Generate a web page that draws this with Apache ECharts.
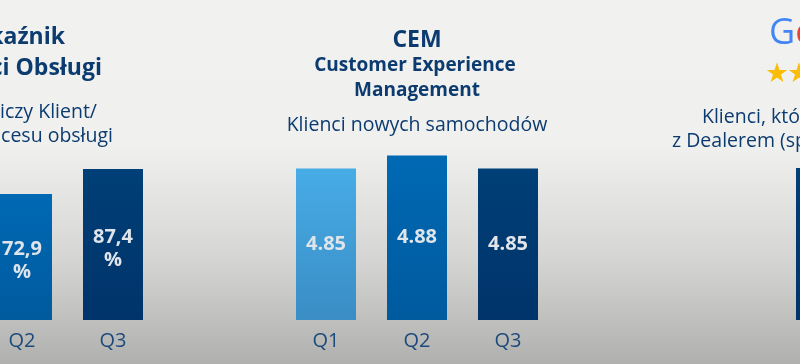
<!DOCTYPE html>
<html>
<head>
<meta charset="utf-8">
<script src="https://cdn.jsdelivr.net/npm/echarts@6/dist/echarts.min.js"></script>
<style>html,body{margin:0;padding:0;}#c{width:800px;height:364px;}</style>
</head>
<body>
<div id="c"></div>
<script>
// Left panel (service quality index, %)
var leftCategories = ['Q2', 'Q3'];
var leftValues = [72.9, 87.4];
// Middle panel (CEM - new car customers)
var cemCategories = ['Q1', 'Q2', 'Q3'];
var cemValues = [4.85, 4.88, 4.85];
// Right panel (Google rating, mostly off-screen)
var googleCategories = ['Q1'];
var googleValues = [4.4];

var FONT = '"Open Sans", "Noto Sans", sans-serif';
var TXT = '#0c3b70';

function grad(top, bottom) {
  return new echarts.graphic.LinearGradient(0, 0, 0, 1, [
    {offset: 0, color: top}, {offset: 1, color: bottom}
  ]);
}
var cLight = grad('#47ace6', '#3a8dc5');
var cMid = grad('#0069b4', '#005a9e');
var cDark = grad('#003f77', '#00346a');

function catAxis(idx, data) {
  return {
    type: 'category', gridIndex: idx, data: data,
    axisLine: {show: false}, axisTick: {show: false},
    axisLabel: {color: '#1d4a7c', fontSize: 20, fontFamily: FONT, margin: 11}
  };
}
function valAxis(idx, min, max) {
  return {
    type: 'value', gridIndex: idx, min: min, max: max,
    axisLine: {show: false}, axisTick: {show: false},
    axisLabel: {show: false}, splitLine: {show: false}
  };
}
var labelBase = {
  show: true, position: 'inside', color: '#dfe5ea',
  fontSize: 20, fontWeight: 'bold', fontFamily: FONT, lineHeight: 23
};

var chart = echarts.init(document.getElementById('c'));
chart.setOption({
  animation: false,
  backgroundColor: new echarts.graphic.LinearGradient(0, 0, 0, 1, [
    {offset: 0, color: '#f1f1ef'},
    {offset: 0.4, color: '#f0f0ee'},
    {offset: 0.7, color: '#d6d7d4'},
    {offset: 1, color: '#b0b1ae'}
  ]),
  grid: [
    {left: -23.5, width: 182, top: 147.2, bottom: 44, outerBoundsMode: 'none', containLabel: false},
    {left: 280.5, width: 273, top: 103.5, bottom: 44, outerBoundsMode: 'none', containLabel: false},
    {left: 780.5, width: 91, top: 147.2, bottom: 44, outerBoundsMode: 'none', containLabel: false}
  ],
  xAxis: [catAxis(0, leftCategories), catAxis(1, cemCategories), catAxis(2, googleCategories)],
  yAxis: [valAxis(0, 0, 100), valAxis(1, 4.5, 5.0), valAxis(2, 0, 5)],
  series: [
    {
      type: 'bar', xAxisIndex: 0, yAxisIndex: 0, barWidth: 60,
      data: leftValues.map(function (v, i) {
        return {value: v, itemStyle: {color: [cMid, cDark][i]}};
      }),
      label: Object.assign({}, labelBase, {
        offset: [0, 4],
        formatter: function (p) { return p.value.toFixed(1).replace('.', ',') + '\n%'; }
      })
    },
    {
      type: 'bar', xAxisIndex: 1, yAxisIndex: 1, barWidth: 60,
      data: cemValues.map(function (v, i) {
        return {value: v, itemStyle: {color: [cLight, cMid, cDark][i]}};
      }),
      label: Object.assign({}, labelBase, {
        formatter: function (p) { return p.value.toFixed(2); }
      })
    },
    {
      type: 'bar', xAxisIndex: 2, yAxisIndex: 2, barWidth: 60,
      data: googleValues.map(function (v) {
        return {value: v, itemStyle: {color: cDark}};
      }),
      label: {show: false}
    }
  ],
  graphic: [
    // middle panel titles
    {type: 'text', x: 417, y: 40, style: {text: 'CEM', font: 'bold 23px ' + FONT, fill: TXT, align: 'center', verticalAlign: 'middle'}},
    {type: 'text', x: 415, y: 66, style: {text: 'Customer Experience', font: 'bold 19px ' + FONT, fill: TXT, align: 'center', verticalAlign: 'middle'}},
    {type: 'text', x: 417, y: 91, style: {text: 'Management', font: 'bold 19px ' + FONT, fill: TXT, align: 'center', verticalAlign: 'middle'}},
    {type: 'text', x: 417, y: 125, style: {text: 'Klienci nowych samochodów', font: '19.5px ' + FONT, fill: TXT, align: 'center', verticalAlign: 'middle'}},
    // left panel titles (cut by the frame)
    {type: 'text', x: 65, y: 37, style: {text: 'kaźnik', font: 'bold 23px ' + FONT, fill: TXT, align: 'right', verticalAlign: 'middle'}},
    {type: 'text', x: 102, y: 68, style: {text: 'ci Obsługi', font: 'bold 23px ' + FONT, fill: TXT, align: 'right', verticalAlign: 'middle'}},
    {type: 'text', x: 97, y: 112, style: {text: 'iczy Klient/', font: '19.5px ' + FONT, fill: TXT, align: 'right', verticalAlign: 'middle'}},
    {type: 'text', x: 113, y: 136, style: {text: 'ocesu obsługi', font: '19.5px ' + FONT, fill: TXT, align: 'right', verticalAlign: 'middle'}},
    // right panel (cut by the frame)
    {type: 'text', x: 769, y: 34, style: {
      text: '{g|G}{o|o}', align: 'left', verticalAlign: 'middle',
      rich: {
        g: {font: '36px ' + FONT, fill: '#4285F4'},
        o: {font: '36px ' + FONT, fill: '#EA4335'}
      }
    }},
    {type: 'text', x: 766, y: 72, style: {text: '★★', font: '22px "Noto Sans CJK SC", "DejaVu Sans", sans-serif', fill: '#FBBC05', align: 'left', verticalAlign: 'middle'}},
    {type: 'text', x: 702, y: 117, style: {text: 'Klienci, któ', font: '19.5px ' + FONT, fill: TXT, align: 'left', verticalAlign: 'middle'}},
    {type: 'text', x: 672, y: 141, style: {text: 'z Dealerem (sp', font: '19.5px ' + FONT, fill: TXT, align: 'left', verticalAlign: 'middle'}}
  ]
});
</script>
</body>
</html>
